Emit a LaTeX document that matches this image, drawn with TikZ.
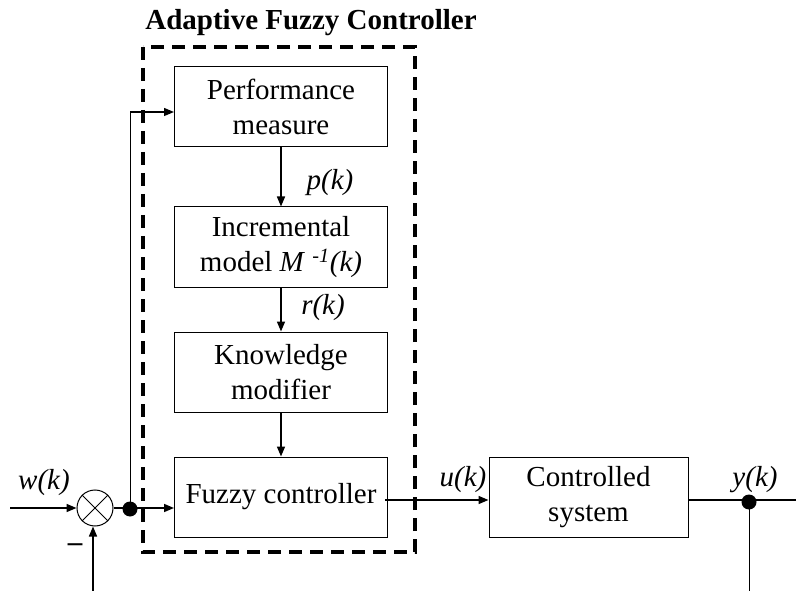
\documentclass[tikz,border=0pt]{standalone}
\usepackage{fontspec}
\setmainfont{Liberation Serif}
\usetikzlibrary{arrows.meta,calc}
\begin{document}
\begin{tikzpicture}[x=1pt,y=-1pt,
  blk/.style={draw,line width=1pt,minimum width=213pt,minimum height=80pt,align=center,inner sep=0pt,font=\fontsize{29}{35}\selectfont},
  conn/.style={line width=1.6pt},
  arr/.style={conn,-{Triangle[length=10pt,width=8pt]}},
  thin/.style={line width=1pt},
  lbl/.style={font=\fontsize{29}{35}\selectfont\itshape,inner sep=0pt},
  dotc/.style={circle,fill=black,inner sep=0pt,minimum size=15pt}]
\useasboundingbox (0,0) rectangle (796,591);
% dashed container
\draw[line width=3.5pt,dash pattern=on 13pt off 8pt] (143,47) rectangle (415,552);
\node[font=\fontsize{29}{35}\selectfont\bfseries,inner sep=0pt] (title) at (311,23) {Adaptive Fuzzy Controller};
% blocks
\node[blk] (perf) at (281,107) {Performance\\measure};
\node[blk] (incr) at (281,247) {Incremental\\model \textit{M} \textsuperscript{\textit{-1}}\textit{(k)}};
\node[blk] (know) at (281,372) {Knowledge\\modifier};
\node[blk] (fuzzy) at (281,497) {Fuzzy controller};
\node[blk,minimum width=199pt] (plant) at (588.5,497) {Controlled\\system};
% summing junction
\node[draw,circle,line width=1pt,minimum size=36pt,inner sep=0pt] (sum) at (95,508) {};
\draw[line width=1pt] (sum.north west) -- (sum.south east) (sum.north east) -- (sum.south west);
\coordinate (win) at (10,508);
\coordinate (bin) at (93,591);
\node[dotc] (jn) at (130,509) {};
\coordinate (fb) at (130,112);
% connectors
\draw[arr] (win) -- (sum.west);
\draw[arr] (bin) -- (bin |- sum.south);
\draw[arr] (sum.east) -- (fuzzy.west |- sum.east);
\draw[thin] (jn.center) -- (fb);
\draw[arr,line width=1.2pt] (fb) -- (perf.west |- fb);
\draw[arr] (perf.south) -- (incr.north);
\draw[arr] (incr.south) -- (know.north);
\draw[arr] (know.south) -- (fuzzy.north);
\coordinate (uo) at (385,500);
\draw[arr] (uo) -- (plant.west |- uo);
\coordinate (yend) at (796,500);
\draw[conn] (plant.east |- yend) -- (yend);
\node[dotc] (yd) at (749,502) {};
\coordinate (ybot) at (749,591);
\draw[thin] (yd.center) -- (ybot);
% labels
\node[lbl] (wl) at (44,483) {w(k)};
\node[font=\fontsize{29}{35}\selectfont\bfseries,inner sep=0pt] (minus) at (75,548) {–};
\node[lbl] (ul) at (463,480) {u(k)};
\node[lbl] (yl) at (755,480) {y(k)};
\node[lbl] (pl) at (330,183) {p(k)};
\node[lbl] (rl) at (323,308) {r(k)};
\end{tikzpicture}
\end{document}
